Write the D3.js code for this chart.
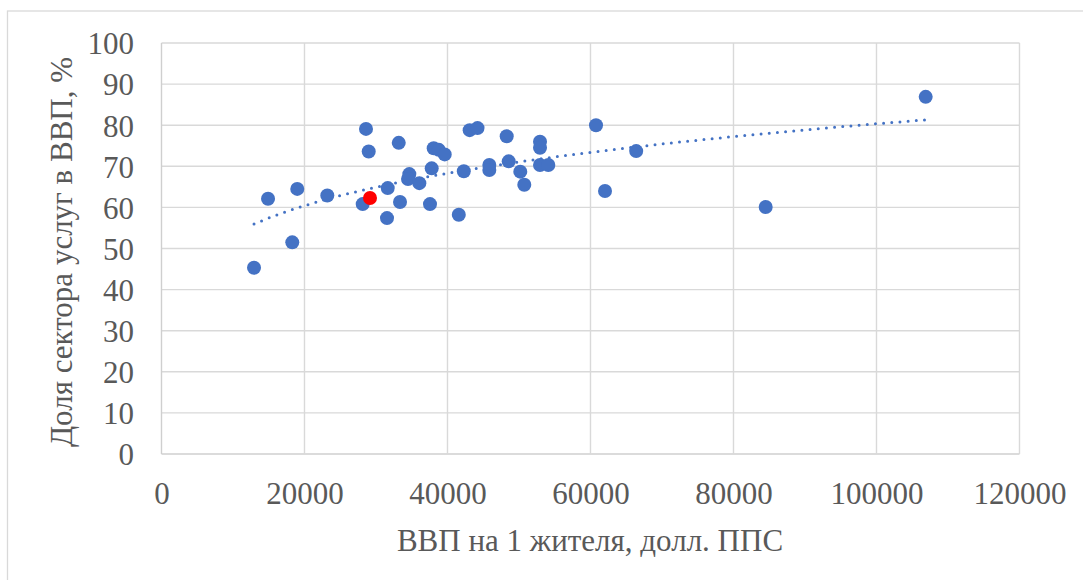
<!DOCTYPE html>
<html>
<head>
<meta charset="utf-8">
<script src="https://cdn.jsdelivr.net/npm/d3@7/dist/d3.min.js"></script>
<style>
  html, body { margin: 0; padding: 0; background: #fff; }
  svg { display: block; }
  svg text { font-family: "Liberation Serif", "DejaVu Serif", "Noto Serif", "Times New Roman", Times, serif !important; fill: #595959; }
</style>
</head>
<body>
<svg id="chart" width="1083" height="580"></svg>
<script>
// GDP per capita (USD PPP) and services share of GDP (%) by country
const gdpPerCapita = [
  12940, 14900, 18290, 18990, 23190, 28140, 28600, 28980, 31540, 31640,
  33180, 33360, 34660, 34480, 36060, 37550, 37790, 38070, 38780, 39610,
  41580, 42280, 43100, 44200, 45850, 45850, 48280, 48560, 50180, 50740,
  52940, 52940, 52940, 54100, 60770, 62030, 66390, 84500, 106880
];
const servicesShare = [
  45.3, 62.1, 51.5, 64.5, 62.9, 60.8, 79.1, 73.6, 57.4, 64.7,
  75.7, 61.3, 68.1, 66.9, 65.9, 60.8, 69.5, 74.4, 74.0, 72.9,
  58.2, 68.8, 78.8, 79.3, 70.3, 69.1, 77.3, 71.2, 68.7, 65.5,
  76.0, 74.5, 70.3, 70.3, 80.0, 64.0, 73.7, 60.1, 86.9
];
// Highlighted country
const highlightGdp = [29160];
const highlightShare = [62.3];

const xTicks = [0, 20000, 40000, 60000, 80000, 100000, 120000];
const yTicks = [0, 10, 20, 30, 40, 50, 60, 70, 80, 90, 100];

const xTitle = "ВВП на 1 жителя, долл. ППС";
const yTitle = "Доля сектора услуг в ВВП, %";

const svg = d3.select("#chart");
const plot = { left: 161.5, right: 1019.5, top: 43, bottom: 454 };

const x = d3.scaleLinear().domain([0, 120000]).range([plot.left, plot.right]);
const y = d3.scaleLinear().domain([0, 100]).range([plot.bottom, plot.top]);

// chart frame
svg.append("rect")
  .attr("x", 7.5).attr("y", 11)
  .attr("width", 1100).attr("height", 600)
  .attr("fill", "#fff").attr("stroke", "#d9d9d9").attr("stroke-width", 1.3);

// gridlines
const grid = svg.append("g");
grid.selectAll("line.h").data(yTicks).join("line")
  .attr("x1", plot.left).attr("x2", plot.right)
  .attr("y1", d => y(d)).attr("y2", d => y(d))
  .attr("stroke", d => d === 0 ? "#cfcfcf" : "#d9d9d9").attr("stroke-width", 1.4);
grid.selectAll("line.v").data(xTicks).join("line")
  .attr("y1", plot.top).attr("y2", plot.bottom)
  .attr("x1", d => x(d)).attr("x2", d => x(d))
  .attr("stroke", d => d === 0 ? "#cfcfcf" : "#d9d9d9").attr("stroke-width", 1.4);

// axes (labels only; lines are drawn by the grid)
const xAxis = d3.axisBottom(x).tickValues(xTicks).tickFormat(d3.format("d")).tickSize(0).tickPadding(0);
const yAxis = d3.axisLeft(y).tickValues(yTicks).tickFormat(d3.format("d")).tickSize(0).tickPadding(0);

const gx = svg.append("g").attr("transform", `translate(0,${plot.bottom})`).call(xAxis)
  .attr("font-family", null).attr("font-size", null);
gx.select(".domain").remove();
gx.selectAll("text")
  .attr("y", 39).attr("dy", "0.35em")
  .style("font-size", "31px").style("fill", "#595959");

const gy = svg.append("g").attr("transform", `translate(134,0)`).call(yAxis)
  .attr("font-family", null).attr("font-size", null);
gy.select(".domain").remove();
gy.selectAll("text")
  .attr("x", 0).attr("dy", "0.35em")
  .style("font-size", "31px").style("fill", "#595959");

// power trendline y = c * x^p, least squares on ln y vs ln x
const allX = gdpPerCapita.concat(highlightGdp);
const allY = servicesShare.concat(highlightShare);
const lx = allX.map(Math.log), ly = allY.map(Math.log);
const mx = d3.mean(lx), my = d3.mean(ly);
const p = d3.sum(lx, (v, i) => (v - mx) * (ly[i] - my)) / d3.sum(lx, v => (v - mx) * (v - mx));
const c = Math.exp(my - p * mx);
const [xmin, xmax] = d3.extent(allX);
const trendX = d3.range(0, 201).map(i => xmin + (xmax - xmin) * i / 200);
const trend = d3.line().x(d => x(d)).y(d => y(c * Math.pow(d, p)));
svg.append("path")
  .attr("d", trend(trendX))
  .attr("fill", "none")
  .attr("stroke", "#4472C4")
  .attr("stroke-width", 3)
  .attr("stroke-linecap", "round")
  .attr("stroke-dasharray", "0 8.2");

// country points
svg.append("g").selectAll("circle")
  .data(gdpPerCapita.map((g, i) => [g, servicesShare[i]]))
  .join("circle")
  .attr("cx", d => x(d[0])).attr("cy", d => y(d[1]))
  .attr("r", 7)
  .attr("fill", "#4472C4");

svg.append("g").selectAll("circle")
  .data(highlightGdp.map((g, i) => [g, highlightShare[i]]))
  .join("circle")
  .attr("cx", d => x(d[0])).attr("cy", d => y(d[1]))
  .attr("r", 7)
  .attr("fill", "#FF0000");

// axis titles
svg.append("text")
  .attr("x", 590).attr("y", 540).attr("dy", "0.35em")
  .attr("text-anchor", "middle")
  .style("font-size", "31px")
  .text(xTitle);

svg.append("text")
  .attr("transform", "translate(61,252) rotate(-90)")
  .attr("dy", "0.35em")
  .attr("text-anchor", "middle")
  .style("font-size", "31px")
  .text(yTitle);
</script>
</body>
</html>
